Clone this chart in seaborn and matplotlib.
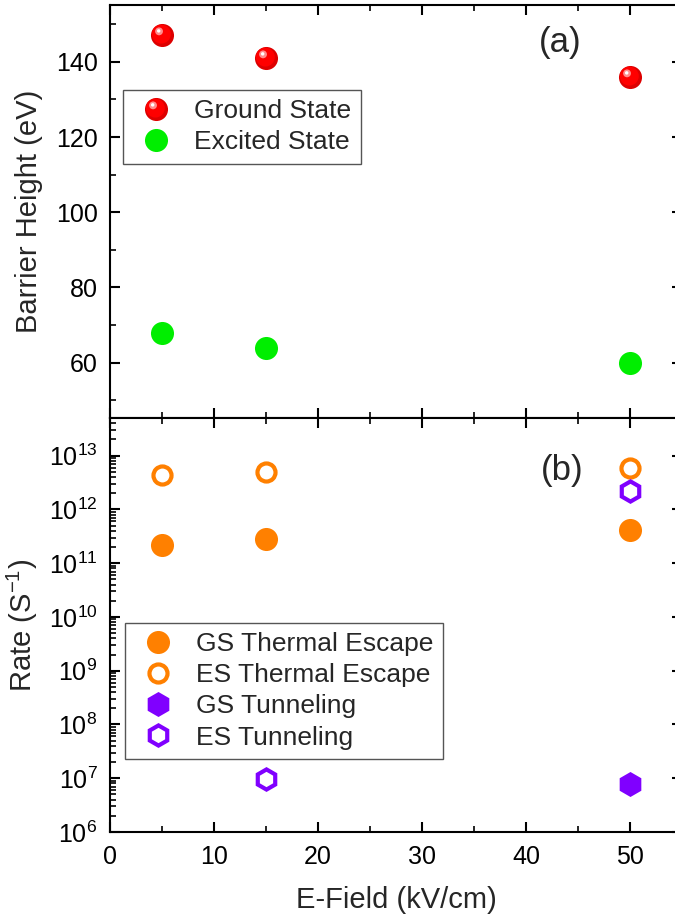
import numpy as np
import pandas as pd
import matplotlib
matplotlib.use("Agg")
import matplotlib.pyplot as plt
import seaborn as sns
from matplotlib.path import Path
from matplotlib.legend_handler import HandlerTuple
from matplotlib.ticker import MultipleLocator, FixedLocator, NullFormatter

# =============================
# Data
# =============================
field = [5, 15, 50]
ground_state = [147, 141, 136]
excited_state = [68, 64, 60]

gs_thermal = [2.2e11, 2.8e11, 4.1e11]
es_thermal = [4.4e12, 5.0e12, 5.8e12]
gs_tunnel_field = [50]
gs_tunnel = [7.9e6]
es_tunnel_field = [15, 50]
es_tunnel = [9.5e6, 2.2e12]

# =============================
# Style
# =============================
sns.set_style("ticks")
plt.rcParams["font.family"] = ["Liberation Sans", "DejaVu Sans"]
plt.rcParams["mathtext.fontset"] = "custom"
plt.rcParams["mathtext.rm"] = "Liberation Sans"
plt.rcParams["mathtext.it"] = "Liberation Sans:italic"

RED, GREEN = "#ff0000", "#00ee00"
ORANGE, PURPLE = "#ff8000", "#8000ff"


def spot(cx, cy, r):
    # off-centre disc used to fake the sphere shading on the red markers
    c = Path.circle((cx, cy), r)
    verts = np.concatenate([[[1, 1], [-1, -1]], c.vertices])
    codes = np.concatenate([[Path.MOVETO, Path.MOVETO], c.codes])
    return Path(verts, codes)


def pts(ax, x, y, marker, ms, fc, ec, mew=0):
    sns.lineplot(x=x, y=y, ax=ax, marker=marker, linestyle="", errorbar=None,
                 markersize=ms, markerfacecolor=fc, markeredgecolor=ec,
                 markeredgewidth=mew, color=ec, legend=False)
    return ax.lines[-1]


fig = plt.figure(figsize=(6.75, 9.22), dpi=100)
ax_a = fig.add_axes([0.163, 0.5466, 0.8474, 0.448])
ax_b = fig.add_axes([0.163, 0.0976, 0.8474, 0.449])

legend_kw = dict(loc="upper left", borderaxespad=0, fontsize=19, fancybox=False,
                 edgecolor="#555555", framealpha=1, handlelength=1.8,
                 handletextpad=0.55, labelspacing=0.27, borderpad=0.35)

# =============================
# (a) Barrier height
# =============================
h_base = pts(ax_a, field, ground_state, "o", 16.6, "#dd0000", "#dd0000")
h_mid = pts(ax_a, field, ground_state, spot(-0.1, 0.12, 0.82), 16.6, RED, RED)
h_glow = pts(ax_a, field, ground_state, spot(-0.3, 0.36, 0.34), 16.6, "#ff8c8c", "#ff8c8c")
h_core = pts(ax_a, field, ground_state, spot(-0.33, 0.4, 0.15), 16.6, "white", "white")
h_exc = pts(ax_a, field, excited_state, "o", 16.6, GREEN, GREEN)

ax_a.set_xlim(0, 55)
ax_a.set_ylim(45.3, 155.1)
ax_a.xaxis.set_major_locator(MultipleLocator(10))
ax_a.xaxis.set_minor_locator(MultipleLocator(5))
ax_a.yaxis.set_major_locator(MultipleLocator(20))
ax_a.yaxis.set_minor_locator(MultipleLocator(10))
ax_a.tick_params(labelbottom=False)
ax_a.set_xlabel("")
ax_a.set_ylabel("Barrier Height (eV)", fontsize=21)
ax_a.yaxis.set_label_coords(-0.118, 0.5)
ax_a.text(0.787, 0.908, "(a)", transform=ax_a.transAxes, fontsize=25,
          ha="center", va="center")

leg_a = ax_a.legend(handles=[(h_base, h_mid, h_glow, h_core), h_exc],
                    labels=["Ground State", "Excited State"],
                    handler_map={tuple: HandlerTuple(ndivide=1)},
                    bbox_to_anchor=(0.0227, 0.794), **legend_kw)
leg_a.get_frame().set_linewidth(1.0)

# =============================
# (b) Rates
# =============================
ax_b.set_yscale("log")
h1 = pts(ax_b, field, gs_thermal, "o", 16.6, ORANGE, ORANGE)
h2 = pts(ax_b, field, es_thermal, "o", 13.0, "none", ORANGE, 3)
h3 = pts(ax_b, gs_tunnel_field, gs_tunnel, "h", 18.0, PURPLE, PURPLE)
h4 = pts(ax_b, es_tunnel_field, es_tunnel, "h", 14.5, "none", PURPLE, 3)

y_top = 10 ** 13.7
decades = [10.0 ** d for d in range(6, 14)]
minors = [k * d for d in decades for k in range(2, 10) if k * d < y_top]

ax_b.set_xlim(0, 55)
ax_b.set_ylim(1e6, y_top)
ax_b.xaxis.set_major_locator(MultipleLocator(10))
ax_b.xaxis.set_minor_locator(MultipleLocator(5))
ax_b.yaxis.set_major_locator(FixedLocator(decades))
ax_b.yaxis.set_minor_locator(FixedLocator(minors))
ax_b.yaxis.set_minor_formatter(NullFormatter())
ax_b.set_xlabel("E-Field (kV/cm)", fontsize=21)
ax_b.xaxis.set_label_coords(0.5, -0.131)
ax_b.set_ylabel("Rate (S$^{-1}$)", fontsize=21)
ax_b.yaxis.set_label_coords(-0.122, 0.5)
ax_b.text(0.790, 0.874, "(b)", transform=ax_b.transAxes, fontsize=25,
          ha="center", va="center")

leg_b = ax_b.legend(handles=[h1, h2, h3, h4],
                    labels=["GS Thermal Escape", "ES Thermal Escape",
                            "GS Tunneling", "ES Tunneling"],
                    bbox_to_anchor=(0.026, 0.505), **legend_kw)
leg_b.get_frame().set_linewidth(1.0)

# =============================
# Axes cosmetics
# =============================
for ax in (ax_a, ax_b):
    ax.tick_params(which="both", direction="in", top=True, right=True,
                   labelsize=18, pad=9, color="black", labelcolor="black")
    ax.tick_params(which="major", length=7, width=1.5)
    ax.tick_params(which="minor", length=4, width=1.2)
    for s in ax.spines.values():
        s.set_linewidth(1.5)
        s.set_color("black")

fig.savefig("out.png", dpi=100)
